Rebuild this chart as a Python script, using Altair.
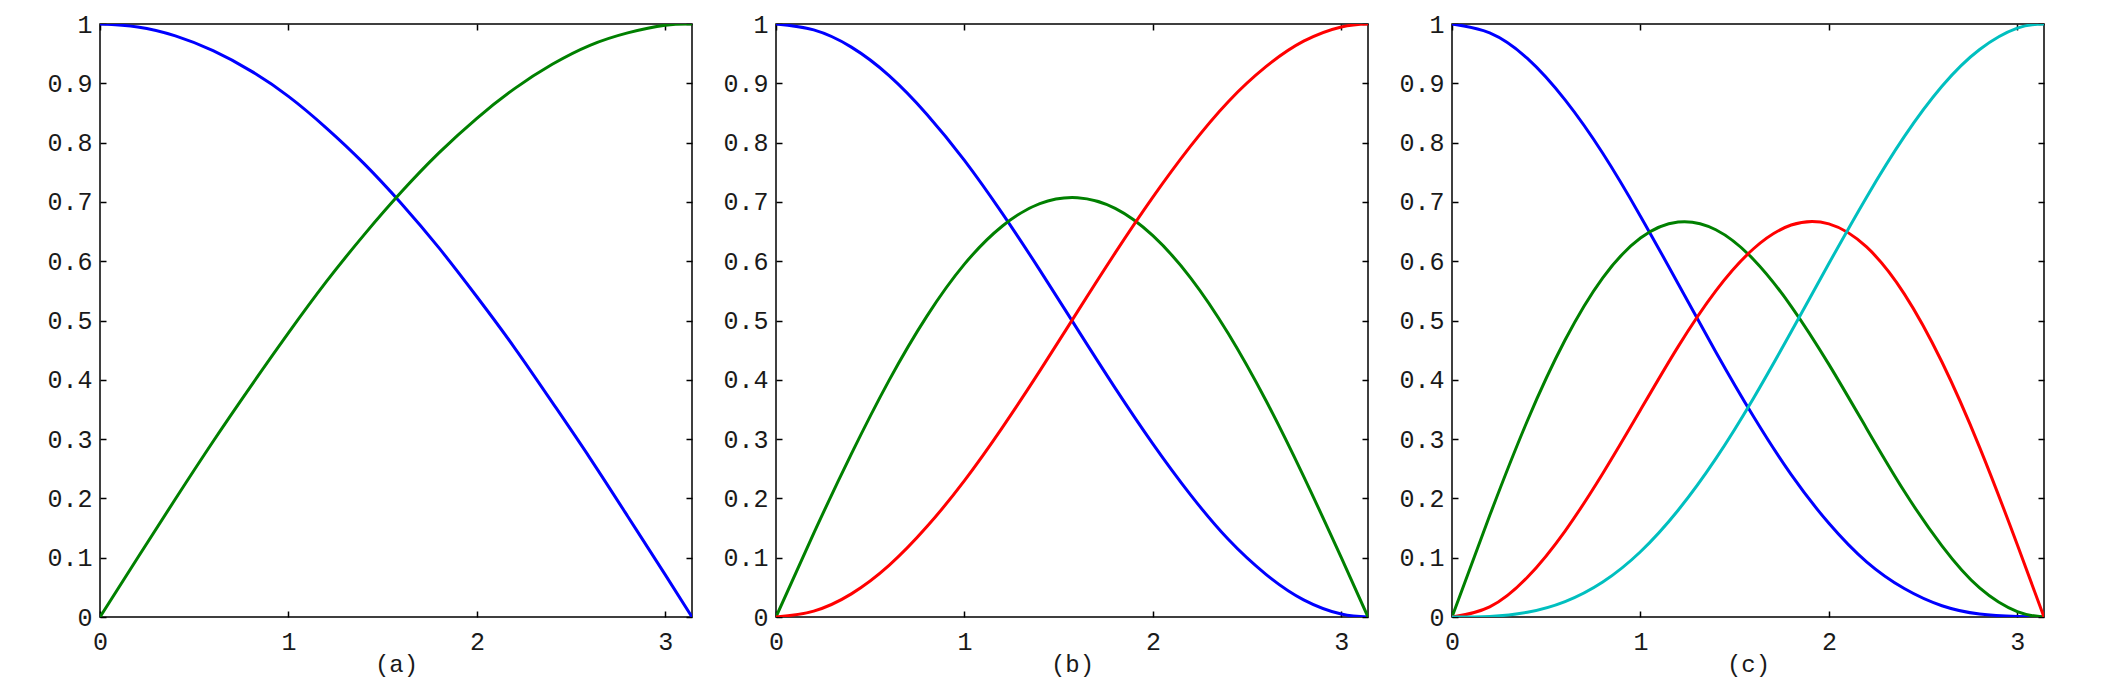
import altair as alt
import pandas as pd

# angle values (x) at which the curves were read
x_vals = [0.0, 0.2, 0.4, 0.6, 0.8, 1.0, 1.2, 1.4, 1.6, 1.8, 2.0, 2.2, 2.4, 2.6, 2.8, 3.0, 3.1416]

# panel (a)
a_blue = [1.000, 0.995, 0.980, 0.955, 0.921, 0.878, 0.825, 0.765, 0.697, 0.622, 0.540, 0.454, 0.362, 0.268, 0.170, 0.071, 0.000]
a_green = [0.000, 0.100, 0.199, 0.296, 0.389, 0.479, 0.565, 0.644, 0.717, 0.783, 0.841, 0.891, 0.932, 0.964, 0.985, 0.998, 1.000]

# panel (b)
b_blue = [1.000, 0.990, 0.961, 0.913, 0.848, 0.770, 0.681, 0.585, 0.485, 0.386, 0.292, 0.206, 0.131, 0.072, 0.029, 0.005, 0.000]
b_green = [0.000, 0.141, 0.275, 0.399, 0.507, 0.595, 0.659, 0.697, 0.707, 0.689, 0.643, 0.572, 0.478, 0.365, 0.237, 0.100, 0.000]
b_red = [0.000, 0.010, 0.039, 0.087, 0.152, 0.230, 0.319, 0.415, 0.515, 0.614, 0.708, 0.794, 0.869, 0.928, 0.971, 0.995, 1.000]

# panel (c)
c_blue = [1.000, 0.985, 0.942, 0.872, 0.782, 0.676, 0.562, 0.447, 0.338, 0.240, 0.158, 0.093, 0.048, 0.019, 0.005, 0.001, 0.000]
c_green = [0.000, 0.171, 0.331, 0.467, 0.572, 0.639, 0.666, 0.653, 0.603, 0.524, 0.426, 0.318, 0.212, 0.120, 0.049, 0.009, 0.000]
c_red = [0.000, 0.017, 0.067, 0.145, 0.242, 0.349, 0.456, 0.550, 0.621, 0.661, 0.663, 0.624, 0.545, 0.430, 0.286, 0.122, 0.000]
c_cyan = [0.000, 0.001, 0.008, 0.026, 0.059, 0.110, 0.180, 0.267, 0.369, 0.481, 0.596, 0.708, 0.810, 0.895, 0.957, 0.993, 1.000]

x_ticks = [0, 1, 2, 3]
y_ticks = [0, 0.1, 0.2, 0.3, 0.4, 0.5, 0.6, 0.7, 0.8, 0.9, 1]

series_names = ["blue", "green", "red", "cyan"]
series_colors = ["#0000ff", "#008000", "#ff0000", "#00bfbf"]

panels = [
    ("(a)", {"blue": a_blue, "green": a_green}),
    ("(b)", {"blue": b_blue, "green": b_green, "red": b_red}),
    ("(c)", {"blue": c_blue, "green": c_green, "red": c_red, "cyan": c_cyan}),
]

FONT = "Liberation Mono"
W, H = 592, 593
TICK = 6


def make_panel(title, series):
    rows = []
    for name, vals in series.items():
        for x, y in zip(x_vals, vals):
            rows.append({"x": x, "y": y, "s": name})
    df = pd.DataFrame(rows)

    xs = alt.Scale(domain=[0, 3.1416], nice=False, zero=False)
    ys = alt.Scale(domain=[0, 1], nice=False)
    cs = alt.Scale(domain=series_names, range=series_colors)

    common = dict(domain=False, ticks=True, tickSize=TICK, tickWidth=1.5, tickColor="black",
                  grid=False, offset=-TICK, labelFont=FONT, labelFontSize=25,
                  labelColor="#1a1a1a", labelFlush=False, labelOverlap=False)

    lines = alt.Chart(df).mark_line(strokeWidth=3, interpolate="natural", clip=True).encode(
        x=alt.X("x:Q", scale=xs, axis=alt.Axis(
            orient="bottom", values=x_ticks, labelPadding=12, title=title,
            titleFont=FONT, titleFontSize=24, titleFontWeight="normal",
            titleColor="#1a1a1a", titlePadding=-2, **common)),
        y=alt.Y("y:Q", scale=ys, axis=alt.Axis(
            orient="left", values=y_ticks, format=".1~f", labelPadding=8,
            title=None, minExtent=85, maxExtent=85, **common)),
        color=alt.Color("s:N", scale=cs, legend=None),
    )

    frame_axes = alt.Chart(df).mark_point(opacity=0).encode(
        x=alt.X("x:Q", scale=xs, axis=alt.Axis(orient="top", values=x_ticks, labels=False,
                                                title=None, **common)),
        y=alt.Y("y:Q", scale=ys, axis=alt.Axis(orient="right", values=y_ticks, labels=False,
                                                title=None, **common)),
    )

    return alt.layer(lines, frame_axes).resolve_axis(x="independent", y="independent").properties(
        width=W, height=H)


charts = [make_panel(t, s) for t, s in panels]

chart = alt.hconcat(*charts, spacing=84, bounds="flush").resolve_scale(
    color="shared"
).configure_view(
    stroke="black", strokeWidth=1.5
).properties(
    padding={"left": 12, "top": 3, "right": 5, "bottom": 5},
    background="white",
)

chart.save("out.html", embed_options={"renderer": "svg", "actions": False})
